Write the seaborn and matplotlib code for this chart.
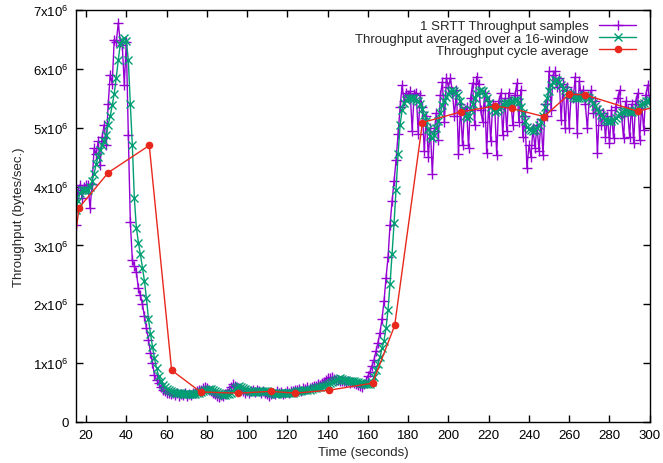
import numpy as np
import pandas as pd
import matplotlib
matplotlib.use('Agg')
import matplotlib.pyplot as plt
import seaborn as sns
from matplotlib.ticker import FuncFormatter, MultipleLocator

# sample times (one sample per second, 15..300 s)
sample_times = np.arange(15, 301, 1.0)

# 1 SRTT throughput samples (x1e6 bytes/sec)
srtt_samples = [
    3.35, 3.95, 4.03, 3.80, 4.00, 4.03,
    4.02, 3.63, 4.05, 4.65, 4.55, 4.77, 4.37, 4.85, 5.05, 4.70,
    5.40, 5.90, 5.75, 6.50, 6.45, 6.78, 6.46, 6.40, 5.73, 6.46,
    4.87, 3.40, 2.75, 2.65, 2.55, 2.27, 2.15, 2.00, 1.80, 1.60,
    1.40, 1.18, 1.00, 0.80, 0.72, 0.66, 0.60, 0.55, 0.52, 0.50,
    0.50, 0.47, 0.49, 0.46, 0.50, 0.45, 0.48, 0.46, 0.49, 0.45,
    0.48, 0.46, 0.50, 0.49, 0.52, 0.54, 0.55, 0.58, 0.60, 0.57,
    0.55, 0.52, 0.50, 0.47, 0.45, 0.43, 0.46, 0.44, 0.48, 0.50,
    0.55, 0.60, 0.64, 0.62, 0.60, 0.57, 0.55, 0.52, 0.50, 0.53,
    0.50, 0.52, 0.54, 0.51, 0.55, 0.53, 0.50, 0.52, 0.49, 0.47,
    0.45, 0.47, 0.50, 0.48, 0.52, 0.49, 0.51, 0.48, 0.50, 0.52,
    0.49, 0.53, 0.52, 0.55, 0.54, 0.56, 0.53, 0.57, 0.56, 0.59,
    0.58, 0.60, 0.62, 0.61, 0.64, 0.63, 0.66, 0.68, 0.72, 0.75,
    0.74, 0.76, 0.73, 0.71, 0.72, 0.70, 0.69, 0.70, 0.68, 0.69,
    0.67, 0.68, 0.66, 0.64, 0.63, 0.62, 0.60, 0.64, 0.70, 0.78,
    0.85, 0.95, 1.05, 1.20, 1.35, 1.52, 1.75, 2.05, 2.45, 2.80,
    3.35, 3.75, 4.10, 4.45, 4.90, 5.35, 5.72, 5.45, 5.60, 5.55,
    5.62, 4.95, 5.58, 5.60, 4.90, 5.55, 5.35, 4.60, 5.20, 4.50,
    5.00, 4.22, 4.95, 5.25, 4.80, 5.55, 5.78, 5.10, 5.84, 5.70,
    5.84, 5.60, 5.20, 5.65, 4.55, 5.40, 4.70, 5.30, 5.35, 4.65,
    5.50, 5.76, 5.05, 5.87, 5.75, 5.30, 5.10, 5.60, 4.57, 5.45,
    4.77, 5.40, 5.35, 4.53, 5.45, 5.59, 4.87, 5.50, 4.95, 5.60,
    5.45, 5.04, 5.55, 5.76, 5.10, 5.65, 4.85, 5.20, 4.31, 4.70,
    4.50, 5.00, 4.65, 5.05, 4.60, 5.15, 4.53, 5.40, 5.20, 5.96,
    5.30, 5.90, 5.96, 5.70, 5.85, 5.13, 5.75, 4.99, 5.70, 5.00,
    5.60, 5.50, 5.87, 4.91, 5.80, 5.55, 5.65, 5.40, 4.99, 5.50,
    5.64, 5.25, 5.45, 4.57, 5.30, 5.05, 5.25, 4.85, 5.20, 4.74,
    5.30, 4.82, 5.35, 5.50, 5.64, 5.20, 4.82, 5.45, 5.30, 4.85,
    5.40, 4.74, 5.45, 5.59, 4.79, 5.40, 4.96, 5.55, 5.73, 5.45,
]

# throughput averaged over a 16-window (x1e6 bytes/sec)
window_avg = [
    3.60, 3.75, 3.90, 3.94, 3.95, 3.95,
    3.95, 4.00, 4.10, 4.22, 4.38, 4.50, 4.62, 4.70, 4.78, 4.88,
    5.05, 5.20, 5.38, 5.58, 5.85, 6.15, 6.42, 6.50, 6.52, 6.48,
    6.15, 5.40, 4.70, 3.80, 3.30, 3.05, 2.85, 2.62, 2.40, 2.10,
    1.75, 1.50, 1.28, 1.08, 0.92, 0.79, 0.70, 0.63, 0.59, 0.56,
    0.54, 0.52, 0.51, 0.50, 0.50, 0.49, 0.49, 0.48, 0.48, 0.48,
    0.48, 0.48, 0.48, 0.48, 0.49, 0.50, 0.51, 0.52, 0.54, 0.55,
    0.56, 0.56, 0.55, 0.53, 0.51, 0.49, 0.47, 0.46, 0.46, 0.47,
    0.48, 0.50, 0.53, 0.57, 0.60, 0.61, 0.60, 0.58, 0.56, 0.54,
    0.53, 0.52, 0.51, 0.51, 0.51, 0.52, 0.52, 0.53, 0.52, 0.52,
    0.51, 0.50, 0.49, 0.48, 0.48, 0.49, 0.50, 0.50, 0.50, 0.50,
    0.50, 0.50, 0.50, 0.51, 0.52, 0.53, 0.53, 0.54, 0.54, 0.55,
    0.55, 0.56, 0.57, 0.58, 0.59, 0.60, 0.61, 0.62, 0.63, 0.64,
    0.66, 0.68, 0.70, 0.72, 0.73, 0.74, 0.73, 0.72, 0.71, 0.70,
    0.70, 0.69, 0.69, 0.68, 0.68, 0.67, 0.66, 0.65, 0.64, 0.64,
    0.65, 0.68, 0.76, 0.88, 0.98, 1.10, 1.25, 1.38, 1.60, 1.90,
    2.35, 2.85, 3.38, 3.95, 4.55, 5.05, 5.30, 5.42, 5.48, 5.50,
    5.50, 5.50, 5.50, 5.48, 5.45, 5.40, 5.32, 5.22, 5.12, 4.98,
    4.86, 4.82, 4.88, 5.00, 5.12, 5.25, 5.38, 5.46, 5.52, 5.58,
    5.62, 5.64, 5.63, 5.60, 5.55, 5.45, 5.32, 5.20, 5.16, 5.20,
    5.30, 5.40, 5.50, 5.58, 5.62, 5.64, 5.62, 5.58, 5.50, 5.42,
    5.35, 5.30, 5.27, 5.28, 5.32, 5.36, 5.40, 5.42, 5.42, 5.42,
    5.44, 5.46, 5.47, 5.47, 5.44, 5.36, 5.25, 5.12, 5.02, 4.98,
    4.96, 4.95, 4.97, 5.00, 5.04, 5.10, 5.20, 5.35, 5.50, 5.62,
    5.72, 5.78, 5.81, 5.81, 5.78, 5.73, 5.68, 5.64, 5.61, 5.58,
    5.55, 5.52, 5.50, 5.50, 5.50, 5.52, 5.54, 5.55, 5.53, 5.50,
    5.47, 5.42, 5.37, 5.32, 5.27, 5.22, 5.18, 5.14, 5.12, 5.11,
    5.11, 5.13, 5.16, 5.20, 5.24, 5.27, 5.28, 5.28, 5.28, 5.27,
    5.27, 5.28, 5.30, 5.34, 5.38, 5.41, 5.43, 5.45, 5.46, 5.47,
]

# throughput cycle average
cycle_times = [12, 16.5, 31.1, 51.4, 62.5, 76.9, 95.6, 111.8, 123.9, 140.7, 162.3,
               173.3, 187.1, 206.1, 223.0, 231.4, 247.5, 259.9, 268.0, 294.1, 310]
cycle_avg = [2.4, 3.64, 4.24, 4.70, 0.88, 0.51, 0.49, 0.52, 0.49, 0.54, 0.66,
             1.64, 5.09, 5.27, 5.37, 5.33, 5.19, 5.57, 5.56, 5.28, 5.42]

labels = ['1 SRTT Throughput samples',
          'Throughput averaged over a 16-window',
          'Throughput cycle average']

sns.set_style('ticks')
plt.rcParams['font.family'] = ['Liberation Sans', 'DejaVu Sans']
plt.rcParams['mathtext.fontset'] = 'custom'
plt.rcParams['mathtext.rm'] = 'Liberation Sans'
plt.rcParams['mathtext.it'] = 'Liberation Sans'
fs = 9.5

samples = pd.DataFrame({'t': sample_times, 'v': np.array(srtt_samples) * 1e6})
avg = pd.DataFrame({'t': sample_times, 'v': np.array(window_avg) * 1e6})
cyc = pd.DataFrame({'t': cycle_times, 'v': np.array(cycle_avg) * 1e6})

fig = plt.figure(figsize=(6.63, 4.64), dpi=100)
ax = fig.add_axes([0.1146, 0.0884, 0.8654, 0.8876])

sns.lineplot(data=samples, x='t', y='v', ax=ax, color='#9400d3', lw=1,
             marker='+', markersize=7.5, markeredgewidth=1, markeredgecolor='#9400d3',
             label=labels[0], sort=False)
sns.lineplot(data=avg, x='t', y='v', ax=ax, color='#009e73', lw=1,
             marker='x', markersize=5.5, markeredgewidth=1, markeredgecolor='#009e73',
             label=labels[1], sort=False)
sns.lineplot(data=cyc, x='t', y='v', ax=ax, color='#e8281c', lw=1,
             marker='o', markersize=5.5, markeredgewidth=0, markerfacecolor='#e8281c',
             label=labels[2], sort=False)

ax.set_xlim(15, 300)
ax.set_ylim(0, 7e6)
ax.xaxis.set_major_locator(MultipleLocator(20))
ax.yaxis.set_major_locator(MultipleLocator(1e6))


def yfmt(v, pos):
    k = int(round(v / 1e6))
    if k == 0:
        return '0'
    return f'{k}x10$^{{6}}$'


ax.yaxis.set_major_formatter(FuncFormatter(yfmt))
ax.tick_params(direction='in', length=5, width=1, top=True, right=True,
               labelsize=fs, colors='black', pad=5)
for s in ax.spines.values():
    s.set_visible(True)
    s.set_color('black')
    s.set_linewidth(1)

ax.set_xlabel('Time (seconds)', fontsize=fs, labelpad=4)
ax.set_ylabel('Throughput (bytes/sec.)', fontsize=fs, labelpad=6)

leg = ax.legend(loc='upper right', bbox_to_anchor=(0.99, 0.995), frameon=False,
                markerfirst=False, fontsize=fs, handlelength=2.8,
                labelspacing=0.0, handletextpad=0.8, borderaxespad=0.2)
for col in leg._legend_handle_box.get_children():
    col.align = 'right'

fig.savefig('out.png', dpi=100)
